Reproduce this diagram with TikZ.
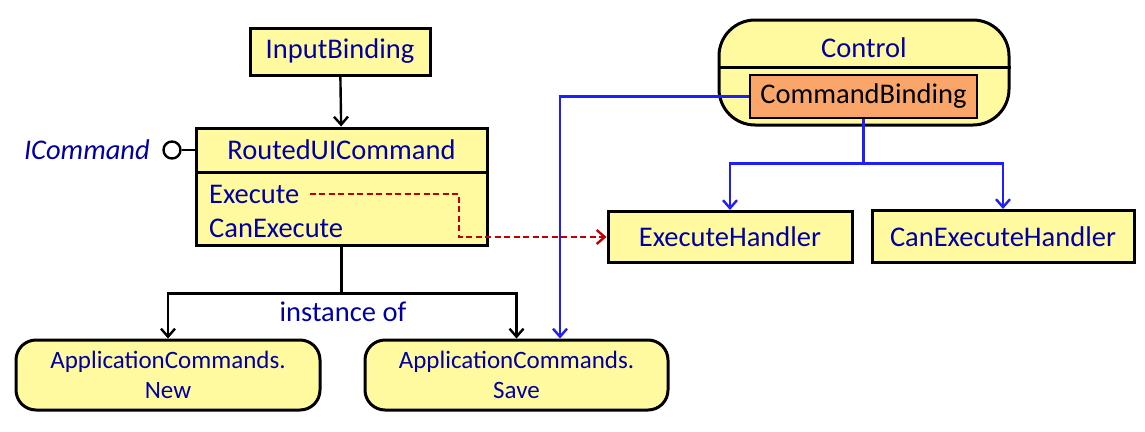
\documentclass[tikz,border=0pt]{standalone}
\usepackage{fontspec}
\setmainfont{Carlito}
\usetikzlibrary{arrows.meta,positioning,calc}
\definecolor{fillY}{RGB}{255,250,160}
\definecolor{fillO}{RGB}{250,165,105}
\definecolor{txtB}{RGB}{0,0,160}
\definecolor{lnB}{RGB}{30,30,255}
\definecolor{lnR}{RGB}{192,0,0}
\tikzset{
  box/.style={draw=black, line width=3pt, fill=fillY, text=txtB, inner sep=0pt, font=\fontsize{28.5}{30}\selectfont},
  rbox/.style={box, rounded corners=20pt, align=center, font=\fontsize{25}{30}\selectfont},
  lbl/.style={text=txtB, inner sep=0pt, font=\fontsize{28.5}{30}\selectfont},
  tip/.style={-{Straight Barb[length=8pt,width=14pt,line width=2.4pt]}},
  blk/.style={draw=black, line width=2.4pt, tip},
  blu/.style={draw=lnB, line width=2.4pt, tip},
  red/.style={draw=lnR, line width=2.4pt, dash pattern=on 6pt off 3.5pt, tip},
}
\begin{document}
\begin{tikzpicture}[x=1pt,y=-1pt]
\useasboundingbox (0,0) rectangle (1145,431);
% InputBinding
\node[box, minimum width=180pt, minimum height=47pt] (ib) at (340,51.5) {InputBinding};
% RoutedUICommand
\node[box, minimum width=291pt, minimum height=44pt] (ruc) at (341.5,150) {RoutedUICommand};
\node[box, minimum width=291pt, minimum height=73pt] (rucb) at (341.5,208.5) {};
\node[lbl, anchor=west] (exe) at (209,194) {Execute};
\node[lbl, anchor=west] (cex) at (209,228) {CanExecute};
% interface
\node[circle, draw=black, line width=2.4pt, fill=white, minimum size=17pt, inner sep=0pt] (ic) at (172,150) {};
\node[lbl, font=\fontsize{28.5}{30}\selectfont\itshape, anchor=east] (icl) at (150,150) {ICommand};
\draw[black, line width=2.4pt] (ic) -- (ruc.west);
% Control
\node[box, rounded corners=36pt, minimum width=290pt, minimum height=105pt] (ctl) at (864,72.5) {};
\draw[black, line width=3pt] (ctl.west |- 0,67) -- (ctl.east |- 0,67);
\node[lbl] (ctlt) at (864,48) {Control};
\node[draw=black, line width=1.2pt, fill=fillO, text=black, inner sep=0pt, minimum width=227pt, minimum height=43pt, font=\fontsize{28.5}{30}\selectfont] (cb) at (863.5,96.5) {CommandBinding};
% handlers
\node[box, minimum width=244pt, minimum height=51pt] (eh) at (730,237) {ExecuteHandler};
\node[box, minimum width=262pt, minimum height=52pt] (ceh) at (1003,236.5) {CanExecuteHandler};
% application commands
\node[rbox, minimum width=304pt, minimum height=70pt] (new) at (168,375) {ApplicationCommands.\\New};
\node[rbox, minimum width=303pt, minimum height=70pt] (save) at (516.5,375) {ApplicationCommands.\\Save};
% connectors
\draw[blk] (ib) -- (ruc);
\draw[blk] (rucb.south) -- ++(0,47) -| (new.north);
\draw[blk] (rucb.south) -- ++(0,47) -| (save.north);
\node[lbl] (inst) at (343,312) {instance of};
\coordinate (rx) at (459,0);
\draw[red] ([xshift=10pt]exe.east) -| (rx |- eh.west) -- (eh.west);
\coordinate (bx) at (560,0);
\draw[blu] (cb.west) -| (bx |- save.north);
\draw[blu] (cb.south) -- ++(0,45) -| (eh.north);
\draw[blu] (cb.south) -- ++(0,45) -| (ceh.north);
\end{tikzpicture}
\end{document}
